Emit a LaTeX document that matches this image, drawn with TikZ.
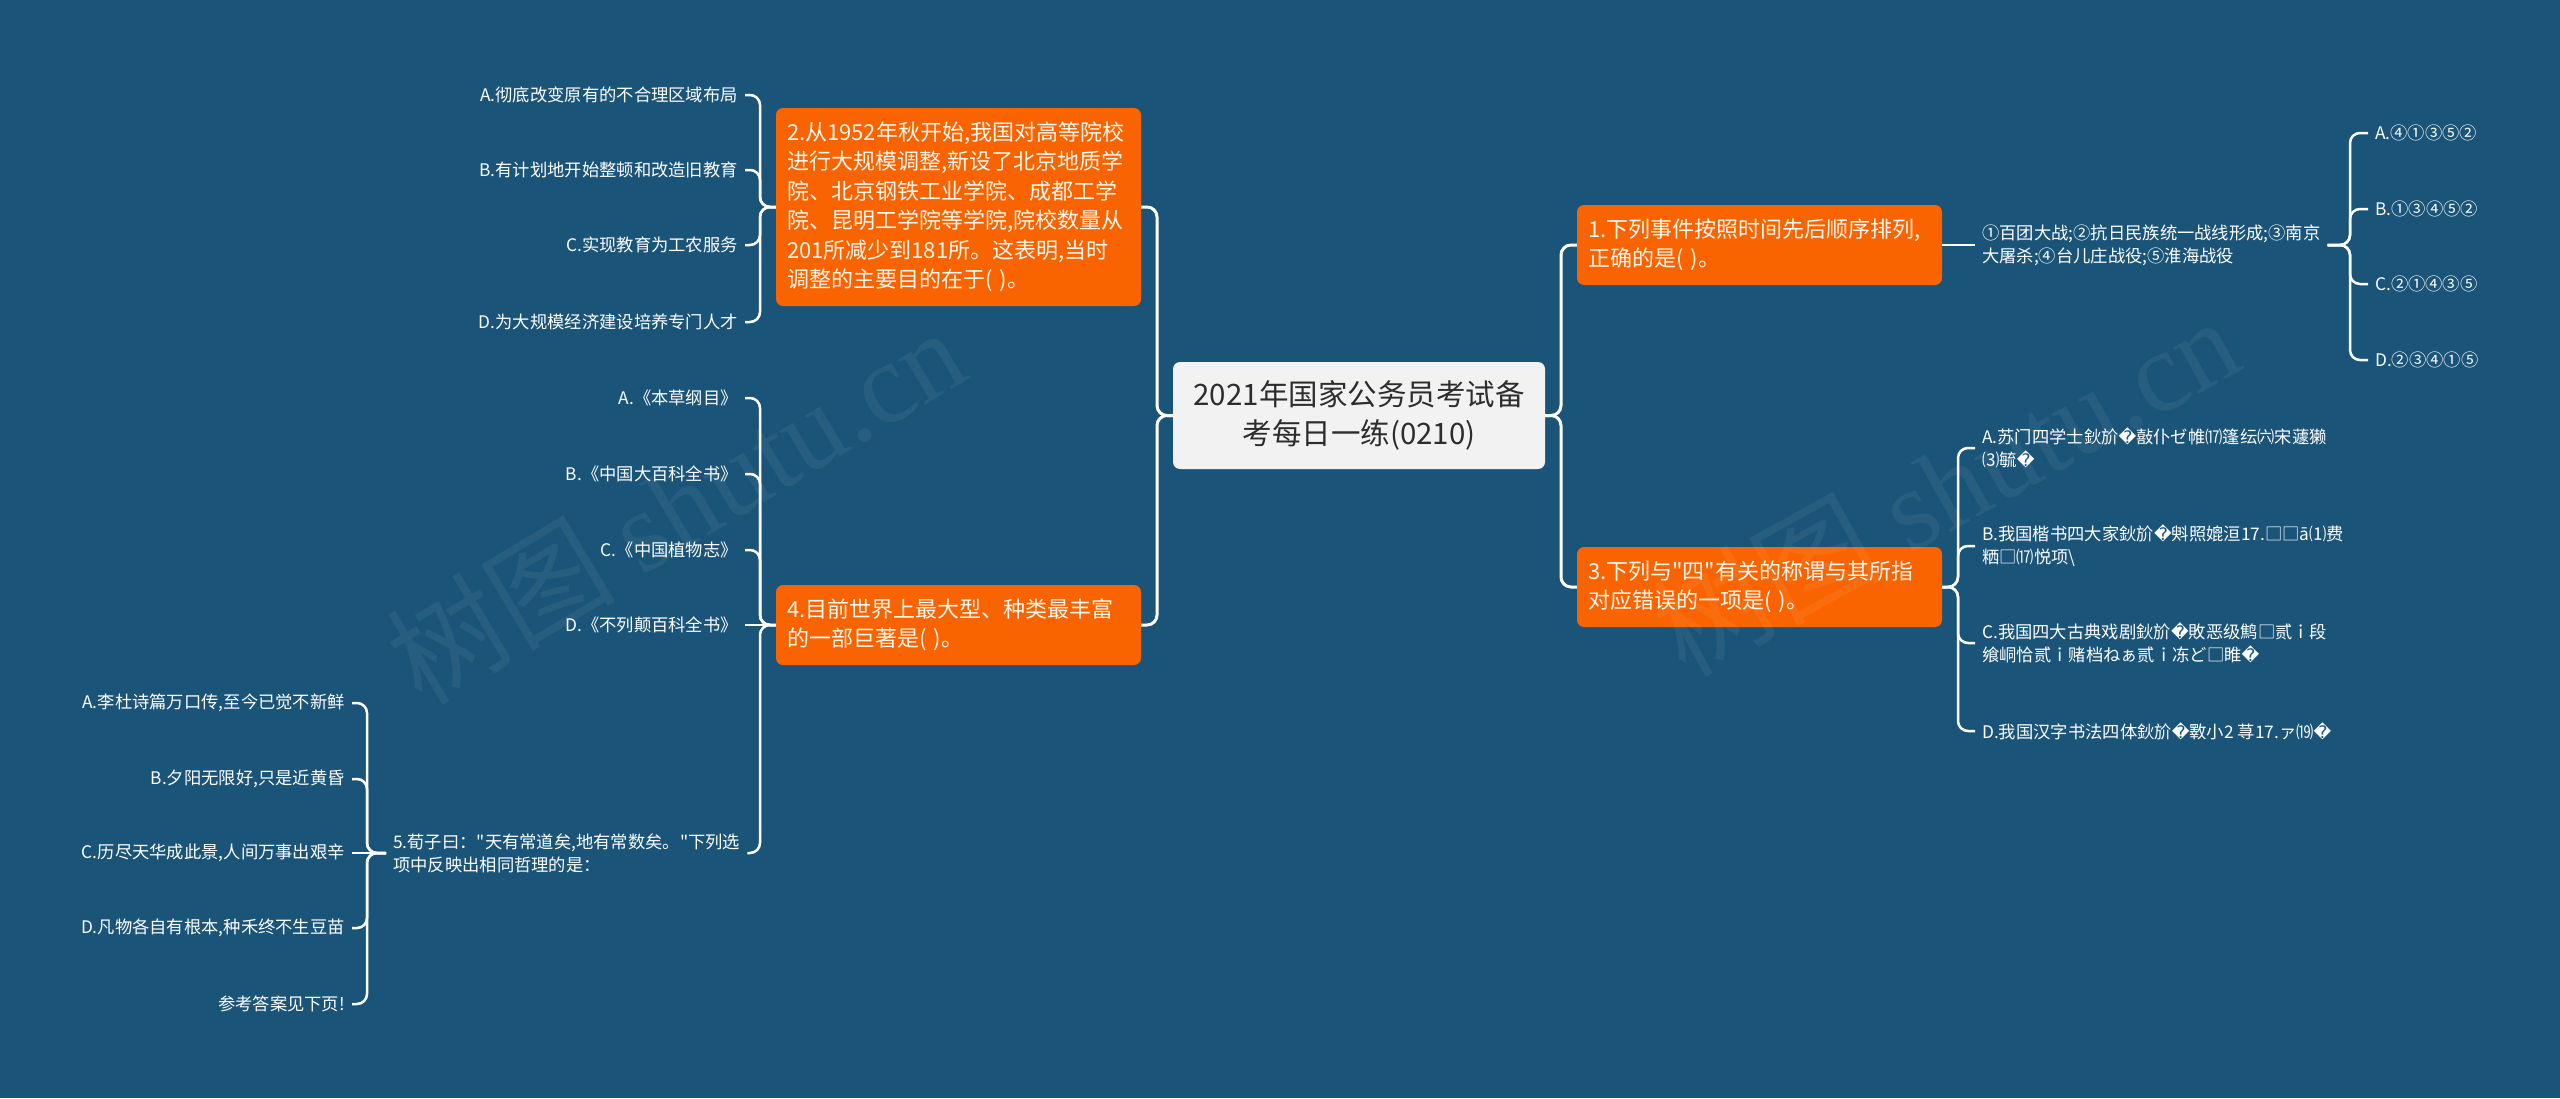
\documentclass[tikz,border=0pt]{standalone}
\usepackage{fontspec}
\setmainfont{Noto Sans CJK SC}[Ligatures=TeXOff]
\newfontfamily\replfont{DejaVu Sans}
\newfontfamily\wmlat{Liberation Serif}
\newcommand\rp{{\replfont\char"FFFD}}
\definecolor{bg}{RGB}{26,84,121}
\definecolor{og}{RGB}{250,100,0}
\definecolor{cfill}{RGB}{242,242,242}
\definecolor{ctext}{RGB}{45,45,45}
\definecolor{otext}{RGB}{255,248,238}
\tikzset{
  conn/.style={draw=white, line width=2.5pt, rounded corners=10pt},
  mainconn/.style={conn, line width=3pt},
  centerbox/.style={fill=cfill, rounded corners=7pt, text=ctext, align=center,
    minimum width=372pt, minimum height=107pt, inner sep=0pt,
    font=\fontsize{29.5pt}{39pt}\selectfont},
  obox/.style={fill=og, rounded corners=7pt, text=otext, text width=343pt, align=left,
    inner xsep=11pt, inner ysep=0pt, font=\fontsize{22pt}{29.5pt}\selectfont},
  leaf/.style={text=white, inner xsep=7pt, inner ysep=2pt, font=\fontsize{17.3pt}{23pt}\selectfont},
  leafL/.style={leaf, anchor=east, align=right},
  leafR/.style={leaf, anchor=west, align=left},
  wm/.style={text=white, text opacity=0.06, inner sep=0pt, font=\fontsize{115pt}{115pt}\selectfont},
}
\begin{document}
\begin{tikzpicture}[x=1pt, y=-1pt]
\path[use as bounding box, fill=bg] (0,0) rectangle (2560,1098);

% bracket x positions
\coordinate (bL) at (1157,0);
\coordinate (bR) at (1561,0);
\coordinate (b2) at (760,0);
\coordinate (b5) at (367,0);
\coordinate (b3) at (1958,0);
\coordinate (bk) at (2350,0);

% center
\node[centerbox] (c) at (1359,415.5) {2021年国家公务员考试备\\考每日一练(0210)};

% main topics
\node[obox, minimum height=80pt] (n1) at (1759.5,245) {1.下列事件按照时间先后顺序排列,\\正确的是( )。};
\node[obox, minimum height=80pt] (n3) at (1759.5,587) {3.下列与"四"有关的称谓与其所指\\对应错误的一项是( )。};
\node[obox, minimum height=198pt] (n2) at (958.5,207) {2.从1952年秋开始,我国对高等院校\\进行大规模调整,新设了北京地质学\\院、北京钢铁工业学院、成都工学\\院、昆明工学院等学院,院校数量从\\201所减少到181所。这表明,当时\\调整的主要目的在于( )。};
\node[obox, minimum height=80pt] (n4) at (958.5,625) {4.目前世界上最大型、种类最丰富\\的一部巨著是( )。};

% question 1 branch
\node[leafR] (k1) at (1975,245) {①百团大战;②抗日民族统一战线形成;③南京\\大屠杀;④台儿庄战役;⑤淮海战役};
\node[leafR] (k1a) at (2368,133) {A.④①③⑤②};
\node[leafR] (k1b) at (2368,209) {B.①③④⑤②};
\node[leafR] (k1c) at (2368,284) {C.②①④③⑤};
\node[leafR] (k1d) at (2368,360) {D.②③④①⑤};

% question 3 branch
\node[leafR] (n3a) at (1975,448) {A.苏门四学士鈥斺\rp 敼仆ゼ帷⒄篷纭㈥宋蘧獭\\⑶毓\rp};
\node[leafR] (n3b) at (1975,546) {B.我国楷书四大家鈥斺\rp 斞照媲洹17.□□ā⑴费\\粞□⒄悦项\textbackslash};
\node[leafR] (n3c) at (1975,643) {C.我国四大古典戏剧鈥斺\rp 敗恶级鹪□贰ｉ段\\飨峒恰贰ｉ赌档ねぁ贰ｉ冻ど□睢\rp};
\node[leafR] (n3d) at (1975,731) {D.我国汉字书法四体鈥斺\rp 斁小2 荨17.ァ⒆\rp};

% question 2 branch
\node[leafL] (n2a) at (745,95) {A.彻底改变原有的不合理区域布局};
\node[leafL] (n2b) at (745,170) {B.有计划地开始整顿和改造旧教育};
\node[leafL] (n2c) at (745,245) {C.实现教育为工农服务};
\node[leafL] (n2d) at (745,322) {D.为大规模经济建设培养专门人才};

% question 4 branch
\node[leafL] (n4a) at (745,398) {A.《本草纲目》};
\node[leafL] (n4b) at (745,474) {B.《中国大百科全书》};
\node[leafL] (n4c) at (745,550) {C.《中国植物志》};
\node[leafL] (n4d) at (745,625) {D.《不列颠百科全书》};
\node[leafR] (n5) at (386,853) {5.荀子曰："天有常道矣,地有常数矣。"下列选\\项中反映出相同哲理的是：};

% question 5 branch
\node[leafL] (n5a) at (352,703) {A.李杜诗篇万口传,至今已觉不新鲜};
\node[leafL] (n5b) at (352,779) {B.夕阳无限好,只是近黄昏};
\node[leafL] (n5c) at (352,853) {C.历尽天华成此景,人间万事出艰辛};
\node[leafL] (n5d) at (352,928) {D.凡物各自有根本,种禾终不生豆苗};
\node[leafL] (n5e) at (352,1004) {参考答案见下页!};

% connectors: center
\foreach \t in {n1,n3}
  \draw[mainconn] (c.east) -- (c.east -| bR) -- (\t.west -| bR) -- (\t.west);
\foreach \t in {n2,n4}
  \draw[mainconn] (c.west) -- (c.west -| bL) -- (\t.east -| bL) -- (\t.east);

% question 1
\draw[conn] (n1.east) -- (k1.west);
\foreach \t in {k1a,k1b,k1c,k1d}
  \draw[conn] (k1.east) -- (k1.east -| bk) -- (\t.west -| bk) -- (\t.west);

% question 3
\foreach \t in {n3a,n3b,n3c,n3d}
  \draw[conn] (n3.east) -- (n3.east -| b3) -- (\t.west -| b3) -- (\t.west);

% question 2
\foreach \t in {n2a,n2b,n2c,n2d}
  \draw[conn] (n2.west) -- (n2.west -| b2) -- (\t.east -| b2) -- (\t.east);

% question 4
\foreach \t in {n4a,n4b,n4c}
  \draw[conn] (n4.west) -- (n4.west -| b2) -- (\t.east -| b2) -- (\t.east);
\draw[conn] (n4.west) -- (n4d.east);
\draw[conn] (n4.west) -- (n4.west -| b2) -- (n5.east -| b2) -- (n5.east);

% question 5
\foreach \t in {n5a,n5b,n5d,n5e}
  \draw[conn] (n5.west) -- (n5.west -| b5) -- (\t.east -| b5) -- (\t.east);
\draw[conn] (n5.west) -- (n5c.east);

% watermarks
\node[wm, rotate=31] (w1) at (675,505) {树图 {\wmlat shutu.cn}};
\node[wm, rotate=29] (w2) at (1945,485) {树图 {\wmlat shutu.cn}};
\end{tikzpicture}
\end{document}
